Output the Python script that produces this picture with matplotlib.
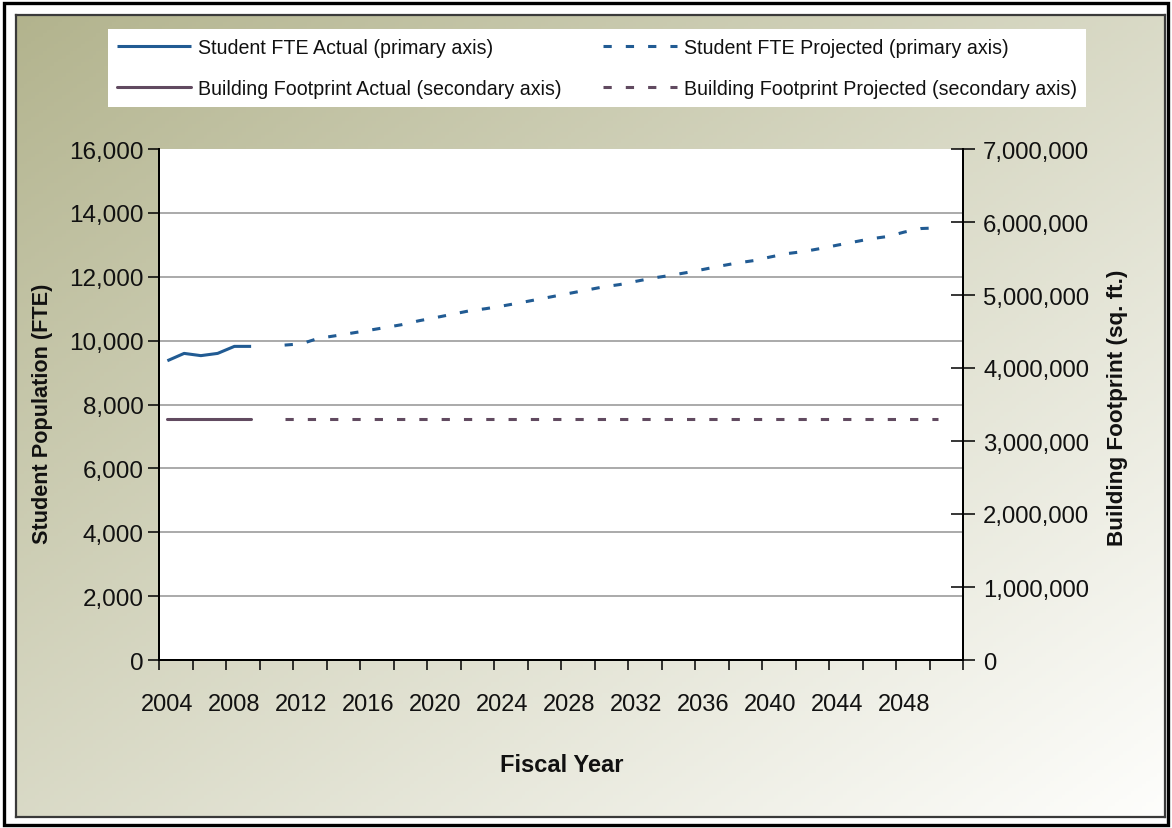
import numpy as np
import matplotlib
matplotlib.use('Agg')
import matplotlib.pyplot as plt
from matplotlib.ticker import FuncFormatter
from matplotlib.patches import Rectangle

# ---------------- data ----------------
categories = list(range(2004, 2052))
label_years = [2004, 2008, 2012, 2016, 2020, 2024, 2028, 2032, 2036, 2040, 2044, 2048]

actual_years = [2004, 2005, 2006, 2007, 2008, 2009]
fte_actual = [9370, 9600, 9530, 9600, 9820, 9820]
footprint_actual = [3300000, 3300000, 3300000, 3300000, 3300000, 3300000]

proj_years = [2011, 2012, 2013, 2014, 2015, 2016, 2017, 2018, 2019, 2020,
              2021, 2022, 2023, 2024, 2025, 2026, 2027, 2028, 2029, 2030,
              2031, 2032, 2033, 2034, 2035, 2036, 2037, 2038, 2039, 2040,
              2041, 2042, 2043, 2044, 2045, 2046, 2047, 2048, 2049, 2050]
fte_projected = [9860, 9900, 10070, 10150, 10235, 10320, 10410, 10500, 10620, 10720,
                 10825, 10930, 11000, 11085, 11180, 11280, 11380, 11480, 11580, 11680,
                 11755, 11860, 11960, 12040, 12130, 12230, 12335, 12430, 12505, 12620,
                 12725, 12790, 12885, 12990, 13090, 13190, 13260, 13400, 13510, 13530]
footprint_projected = [3300000, 3300000, 3300000, 3300000, 3300000, 3300000, 3300000, 3300000,
                       3300000, 3300000, 3300000, 3300000, 3300000, 3300000, 3300000, 3300000,
                       3300000, 3300000, 3300000, 3300000, 3300000, 3300000, 3300000, 3300000,
                       3300000, 3300000, 3300000, 3300000, 3300000, 3300000, 3300000, 3300000,
                       3300000, 3300000, 3300000, 3300000, 3300000, 3300000, 3300000, 3300000]

series_labels = ['Student FTE Actual (primary axis)',
                 'Student FTE Projected (primary axis)',
                 'Building Footprint Actual (secondary axis)',
                 'Building Footprint Projected (secondary axis)']

# ---------------- style ----------------
regular = ['Liberation Sans', 'DejaVu Sans']
plt.rcParams['font.family'] = regular

BLUE = '#215b93'
PLUM = '#614a60'
TXT = '#111111'

W, H = 1172, 829
fig = plt.figure(figsize=(W / 100, H / 100), dpi=100, facecolor='white')


def fx(px):
    return px / W


def fy(py):
    return 1 - py / H


# gradient background panel
bg = fig.add_axes([fx(16), fy(818), fx(1165) - fx(16), fy(16) - fy(818)], zorder=-10)
nx, ny = 300, 220
u = np.linspace(0, 1, nx)[None, :]
v = np.linspace(0, 1, ny)[:, None]
t = np.clip((u + v) / 2.0, 0, 1) ** 0.95
c0 = np.array([178, 179, 141]) / 255
c1 = np.array([254, 254, 252]) / 255
img = c0[None, None, :] + (c1 - c0)[None, None, :] * t[:, :, None]
bg.imshow(img, extent=[0, 1, 0, 1], aspect='auto', origin='upper')
bg.set_xlim(0, 1)
bg.set_ylim(0, 1)
bg.set_xticks([])
bg.set_yticks([])
for s in bg.spines.values():
    s.set_color('#3a3a3a')
    s.set_linewidth(1.6)

# outer border
fig.patches.append(Rectangle((fx(4), fy(826)), fx(1168) - fx(4), fy(4) - fy(826),
                             transform=fig.transFigure, fill=False,
                             edgecolor='black', linewidth=2.4, zorder=-5))

# main axes
ax = fig.add_axes([fx(159), fy(661), fx(963) - fx(159), fy(150) - fy(661)])
ax.set_facecolor('white')
ax2 = ax.twinx()

lw = 2.2
dash = (2.7, 4.6)
l1, = ax.plot(actual_years, fte_actual, color=BLUE, lw=lw, solid_capstyle='butt',
              solid_joinstyle='round', zorder=3)
l2, = ax.plot(proj_years, fte_projected, color=BLUE, lw=lw, dashes=dash,
              dash_capstyle='butt', zorder=3)
l3, = ax2.plot(actual_years, footprint_actual, color=PLUM, lw=lw, solid_capstyle='round', zorder=3)
l4, = ax2.plot(proj_years, footprint_projected, color=PLUM, lw=lw, dashes=dash,
               dash_capstyle='butt', zorder=3)

ax.set_xlim(categories[0] - 0.5, categories[-1] + 0.5)
ax.set_ylim(0, 16000)
ax2.set_ylim(0, 7000000)

ax.set_yticks(np.arange(0, 16001, 2000))
ax.yaxis.grid(True, color='#a4a4a4', linewidth=1.3)
ax.set_axisbelow(True)
ax.get_ygridlines()[-1].set_visible(False)
ax2.set_yticks(np.arange(0, 7000001, 1000000))

fmt = FuncFormatter(lambda val, pos: f'{int(val):,}')
ax.yaxis.set_major_formatter(fmt)
ax2.yaxis.set_major_formatter(fmt)

# x ticks: marks at category boundaries every 2 categories, labels every 4
boundaries = [c - 0.5 for c in categories[::2]] + [categories[-1] + 0.5]
ax.set_xticks(boundaries, minor=True)
ax.set_xticks(label_years)
ax.set_xticklabels([str(y) for y in label_years])
ax.tick_params(axis='x', which='major', length=0, pad=24)
ax.tick_params(axis='x', which='minor', length=7, width=1.1, direction='out', color='black')

for lab in ax.get_xticklabels():
    lab.set_fontsize(17)
    lab.set_color(TXT)
for lab in ax.get_yticklabels():
    lab.set_fontsize(17.5)
    lab.set_color(TXT)
for lab in ax2.get_yticklabels():
    lab.set_fontsize(17.2)
    lab.set_color(TXT)

ax.tick_params(axis='y', which='major', length=8, width=1.1, direction='out', pad=3)
ax2.tick_params(axis='y', which='major', length=17, width=1.1, direction='inout', pad=6)

for a in (ax, ax2):
    a.spines['top'].set_visible(False)
    for k in ('left', 'right', 'bottom'):
        a.spines[k].set_color('black')
        a.spines[k].set_linewidth(1.4)

# axis titles
fig.text(fx(43), fy(414), 'Student Population (FTE)', rotation=90, ha='center', va='center',
         fontsize=15.6, fontweight='bold', color=TXT)
fig.text(fx(1117), fy(408), 'Building Footprint (sq. ft.)', rotation=90, ha='center', va='center',
         fontsize=16.2, fontweight='bold', color=TXT)
fig.text(fx(562), fy(766), 'Fiscal Year', ha='center', va='center',
         fontsize=17, fontweight='bold', color=TXT)

# legend (column 1: actuals, column 2: projections)
LEG_FS = 14.1
leg = fig.legend([l1, l3, l2, l4],
                 [series_labels[0], series_labels[2], series_labels[1], series_labels[3]],
                 ncol=2, loc='upper left', bbox_to_anchor=(fx(108), fy(30)),
                 borderaxespad=0, borderpad=0.45, handlelength=3.8, handletextpad=0.35,
                 columnspacing=2.1, labelspacing=1.15, frameon=True, fancybox=False,
                 prop={'size': LEG_FS})
leg.get_frame().set_facecolor('white')
leg.get_frame().set_edgecolor('white')
leg.get_frame().set_alpha(1)
leg.get_frame().set_linewidth(0)
for txt in leg.get_texts():
    txt.set_color(TXT)

fig.savefig('out.png', dpi=100, facecolor='white')
